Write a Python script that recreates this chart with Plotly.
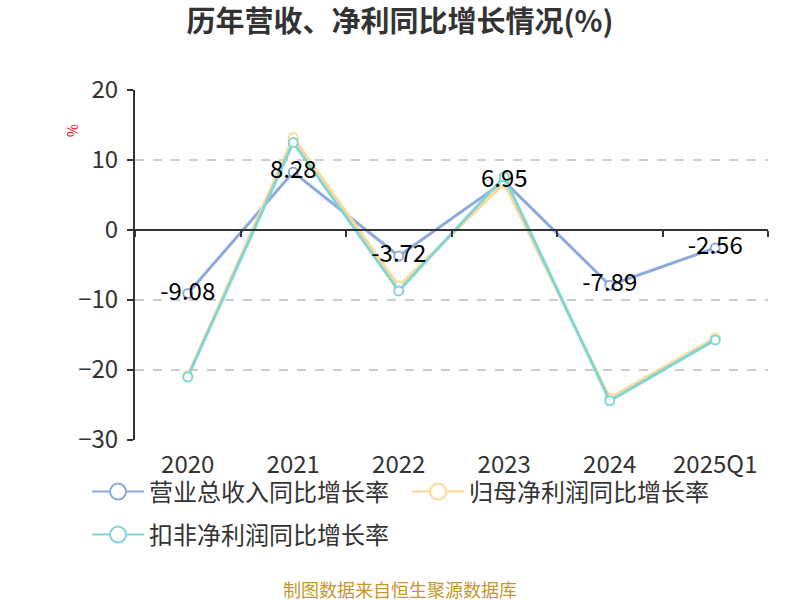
import plotly.graph_objects as go

categories = ["2020", "2021", "2022", "2023", "2024", "2025Q1"]
revenue_growth = [-9.08, 8.28, -3.72, 6.95, -7.89, -2.56]
net_profit_growth = [-20.8, 13.2, -8.0, 6.7, -24.0, -15.4]
deducted_profit_growth = [-21.0, 12.5, -8.7, 7.6, -24.4, -15.7]
revenue_labels = ["-9.08", "8.28", "-3.72", "6.95", "-7.89", "-2.56"]
y_ticks = [-30, -20, -10, 0, 10, 20]

FONT = "Noto Sans CJK SC"
c_rev = "#8eaadb"
c_net = "#ffd898"
c_ded = "#80d6d6"

fig = go.Figure()

def add_series(name, vals, color, legend):
    fig.add_trace(go.Scatter(
        x=categories, y=vals, name=name, mode="lines+markers",
        line=dict(color=color, width=3),
        marker=dict(symbol="circle", size=9, color="#ffffff", line=dict(color=color, width=2)),
        cliponaxis=False, showlegend=False, legendgroup=name,
    ))
    # legend entry with a larger symbol
    fig.add_trace(go.Scatter(
        x=[None], y=[None], name=name, mode="lines+markers", legend=legend, legendgroup=name,
        line=dict(color=color, width=2),
        marker=dict(symbol="circle", size=16, color="#ffffff", line=dict(color=color, width=2)),
        hoverinfo="skip",
    ))

add_series("营业总收入同比增长率", revenue_growth, c_rev, "legend")
add_series("归母净利润同比增长率", net_profit_growth, c_net, "legend2")
add_series("扣非净利润同比增长率", deducted_profit_growth, c_ded, "legend3")

# value labels of the revenue series, drawn above all lines
fig.add_trace(go.Scatter(
    x=categories, y=revenue_growth, mode="text", text=revenue_labels,
    textposition="middle center", textfont=dict(size=24, color="#000000", family=FONT),
    showlegend=False, hoverinfo="skip", cliponaxis=False,
))

# zero-line axis with boundary ticks
fig.add_trace(go.Scatter(x=categories, y=[None]*6, xaxis="x2", showlegend=False, hoverinfo="skip"))

PL, PR, PT, PB = 135, 32, 90, 160
PW, PH = 800 - PL - PR, 600 - PT - PB

def px_x(x):
    return (x - PL) / PW

def px_y(y):
    return (600 - PB - y) / PH

leg_common = dict(orientation="h", xanchor="left", yanchor="middle",
                  font=dict(size=24, color="#333333", family=FONT), bgcolor="rgba(0,0,0,0)",
                  itemwidth=52, itemsizing="trace")

fig.update_layout(
    width=800, height=600,
    paper_bgcolor="#ffffff", plot_bgcolor="#ffffff",
    margin=dict(l=PL, r=PR, t=PT, b=PB),
    font=dict(family=FONT, color="#333333"),
    title=dict(text="<b>历年营收、净利同比增长情况(%)</b>", x=0.5, xanchor="center",
               y=1 - 22/600, yanchor="middle", font=dict(size=29, color="#333333", family=FONT)),
    xaxis=dict(type="category", categoryorder="array", categoryarray=categories,
               range=[-0.5, 5.5], showline=False, ticks="", showgrid=False, zeroline=False,
               tickfont=dict(size=24, color="#333333"), ticklabelstandoff=8),
    xaxis2=dict(type="category", categoryorder="array", categoryarray=categories,
                range=[-0.5, 5.5], overlaying="x", anchor="free", position=0.6, side="bottom",
                showline=True, linecolor="#333333", linewidth=2, ticks="outside",
                tickson="boundaries", ticklen=6, tickwidth=2, tickcolor="#333333",
                showticklabels=False, showgrid=False, zeroline=False),
    yaxis=dict(range=[-30, 20], tickvals=y_ticks, showline=True, linecolor="#333333", linewidth=2,
               ticks="outside", ticklen=6, tickwidth=2, tickcolor="#333333",
               showgrid=True, gridcolor="#cccccc", griddash="dash", gridwidth=1.5,
               zeroline=False, tickfont=dict(size=24, color="#333333"), ticklabelstandoff=4),
    legend=dict(x=px_x(87), y=px_y(492), **leg_common),
    legend2=dict(x=px_x(407), y=px_y(492), **leg_common),
    legend3=dict(x=px_x(87), y=px_y(535), **leg_common),
    showlegend=True,
)

fig.add_annotation(text="%", xref="paper", yref="paper", x=px_x(72), xanchor="center",
                   y=px_y(131), yanchor="middle", showarrow=False,
                   textangle=-90, font=dict(size=14, color="#ff0000", family=FONT))
fig.add_annotation(text="制图数据来自恒生聚源数据库", xref="paper", yref="paper",
                   x=px_x(400), xanchor="center", y=px_y(589), yanchor="middle", showarrow=False,
                   font=dict(size=18, color="#c8962a", family=FONT))

fig.write_html("out.html", config={"displayModeBar": False},
               post_script="document.body.style.margin='0';")
